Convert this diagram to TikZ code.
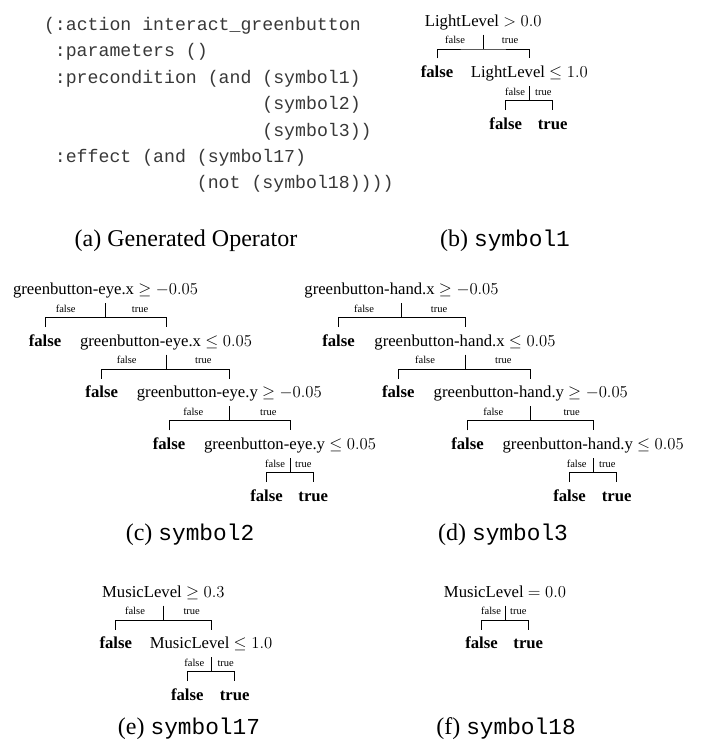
\RequirePackage{fix-cm}
\documentclass[tikz,border=0pt]{standalone}
\usepackage[no-math]{fontspec}
\setmainfont{Liberation Serif}
\setmonofont{Liberation Mono}
\usetikzlibrary{calc}
\newcommand\captt[1]{{\fontsize{22.8}{24}\selectfont\ttfamily #1}}
\newcommand\tbranch[3]{%
  \draw[tline] ($(#1.base)+(0,8.5)$) -- ($(#1.base)+(0,23)$);
  \draw[tline] ($(#2.base)+(0,-19.2)$) |- ($(#1.base)+(0,23)$) -| ($(#3.base)+(0,-19.2)$);}
\tikzset{
  every node/.style={inner sep=0pt, outer sep=0pt},
  cond/.style={anchor=base, font=\fontsize{16.7}{20}\selectfont},
  leaf/.style={anchor=base, font=\fontsize{16.7}{20}\selectfont\bfseries},
  lbl/.style={anchor=base, font=\fontsize{10.5}{12}\selectfont},
  tline/.style={line width=1pt, black},
  codeln/.style={anchor=base west, font=\fontsize{18.2}{22}\selectfont\ttfamily, text=black!78},
  captxt/.style={anchor=base, font=\fontsize{24}{26}\selectfont},
}
\begin{document}
\begin{tikzpicture}[x=1pt, y=-1pt]
\useasboundingbox (0,0) rectangle (704,745);
% (a) operator
\node[codeln] (k1) at (44,30.5) {(:action interact\_greenbutton};
\node[codeln] (k2) at (54.9,56.9) {:parameters ()};
\node[codeln] (k3) at (54.9,83.3) {:precondition (and (symbol1)};
\node[codeln] (k4) at (262.4,109.7) {(symbol2)};
\node[codeln] (k5) at (262.4,136.1) {(symbol3))};
\node[codeln] (k6) at (54.9,162.5) {:effect (and (symbol17)};
\node[codeln] (k7) at (196.9,188.9) {(not (symbol18))))};
\node[captxt] (capa) at (186,246) {(a) Generated Operator};
% (b) symbol1
\node[cond] (b1) at (483.2,26) {LightLevel $> 0.0$};
\node[leaf] (b2f) at (437,77.6) {false};
\node[cond] (b2) at (529.3,77.6) {LightLevel $\leq 1.0$};
\node[leaf] (b3f) at (505.7,129.2) {false};
\node[leaf] (b3t) at (552.7,129.2) {true};
\node[lbl] (lb1f) at (455,43.6) {false};
\node[lbl] (lb1t) at (510,43.6) {true};
\node[lbl] (lb2f) at (515,95.2) {false};
\node[lbl] (lb2t) at (543.3,95.2) {true};
\tbranch{b1}{b2f}{b2}
\tbranch{b2}{b3f}{b3t}
\node[captxt] (capb) at (505,246) {(b) \captt{symbol1}};
% (c) symbol2
\node[cond] (c1) at (105.5,294.5) {greenbutton-eye.x $\geq -0.05$};
\node[leaf] (c2f) at (45,346.2) {false};
\node[cond] (c2) at (166,346.2) {greenbutton-eye.x $\leq 0.05$};
\node[leaf] (c3f) at (101.7,397.9) {false};
\node[cond] (c3) at (229.3,397.9) {greenbutton-eye.y $\geq -0.05$};
\node[leaf] (c4f) at (169,449.6) {false};
\node[cond] (c4) at (290,449.6) {greenbutton-eye.y $\leq 0.05$};
\node[leaf] (c5f) at (266.5,501.3) {false};
\node[leaf] (c5t) at (313.3,501.3) {true};
\node[lbl] (lc1f) at (65.7,312.1) {false};
\node[lbl] (lc1t) at (140,312.1) {true};
\node[lbl] (lc2f) at (126.7,363.8) {false};
\node[lbl] (lc2t) at (203.3,363.8) {true};
\node[lbl] (lc3f) at (193.3,415.5) {false};
\node[lbl] (lc3t) at (268.3,415.5) {true};
\node[lbl] (lc4f) at (275,467.2) {false};
\node[lbl] (lc4t) at (303.3,467.2) {true};
\tbranch{c1}{c2f}{c2}
\tbranch{c2}{c3f}{c3}
\tbranch{c3}{c4f}{c4}
\tbranch{c4}{c5f}{c5t}
\node[captxt] (capc) at (190,540) {(c) \captt{symbol2}};
% (d) symbol3
\node[cond] (d1) at (401.5,294.5) {greenbutton-hand.x $\geq -0.05$};
\node[leaf] (d2f) at (338.5,346.2) {false};
\node[cond] (d2) at (465,346.2) {greenbutton-hand.x $\leq 0.05$};
\node[leaf] (d3f) at (398.3,397.9) {false};
\node[cond] (d3) at (530.8,397.9) {greenbutton-hand.y $\geq -0.05$};
\node[leaf] (d4f) at (467.5,449.6) {false};
\node[cond] (d4) at (593.2,449.6) {greenbutton-hand.y $\leq 0.05$};
\node[leaf] (d5f) at (569.5,501.3) {false};
\node[leaf] (d5t) at (616.7,501.3) {true};
\node[lbl] (ld1f) at (364,312.1) {false};
\node[lbl] (ld1t) at (439,312.1) {true};
\node[lbl] (ld2f) at (425,363.8) {false};
\node[lbl] (ld2t) at (503.3,363.8) {true};
\node[lbl] (ld3f) at (493.3,415.5) {false};
\node[lbl] (ld3t) at (571.7,415.5) {true};
\node[lbl] (ld4f) at (576.7,467.2) {false};
\node[lbl] (ld4t) at (607.3,467.2) {true};
\tbranch{d1}{d2f}{d2}
\tbranch{d2}{d3f}{d3}
\tbranch{d3}{d4f}{d4}
\tbranch{d4}{d5f}{d5t}
\node[captxt] (capd) at (503,540) {(d) \captt{symbol3}};
% (e) symbol17
\node[cond] (e1) at (163.3,597.2) {MusicLevel $\geq 0.3$};
\node[leaf] (e2f) at (115.8,648.8) {false};
\node[cond] (e2) at (211,648.8) {MusicLevel $\leq 1.0$};
\node[leaf] (e3f) at (187.3,700.4) {false};
\node[leaf] (e3t) at (234.7,700.4) {true};
\node[lbl] (le1f) at (135,614.8) {false};
\node[lbl] (le1t) at (191.7,614.8) {true};
\node[lbl] (le2f) at (194.3,666.4) {false};
\node[lbl] (le2t) at (225.7,666.4) {true};
\tbranch{e1}{e2f}{e2}
\tbranch{e2}{e3f}{e3t}
\node[captxt] (cape) at (189,734.5) {(e) \captt{symbol17}};
% (f) symbol18
\node[cond] (f1) at (505,597.2) {MusicLevel $= 0.0$};
\node[leaf] (f2f) at (481.5,648.8) {false};
\node[leaf] (f2t) at (528.3,648.8) {true};
\node[lbl] (lf1f) at (491,614.8) {false};
\node[lbl] (lf1t) at (518.3,614.8) {true};
\tbranch{f1}{f2f}{f2t}
\node[captxt] (capf) at (506,734.5) {(f) \captt{symbol18}};
\end{tikzpicture}
\end{document}
